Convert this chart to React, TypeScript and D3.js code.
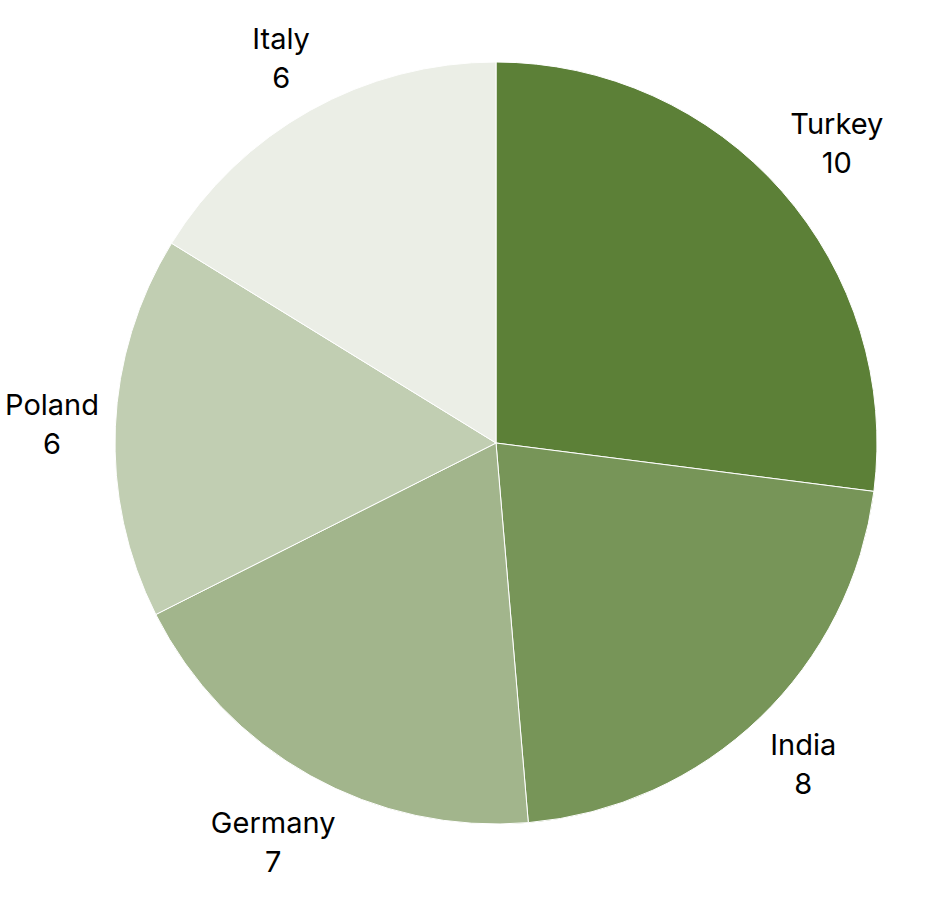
import React from "react";
import * as d3 from "d3";

const categories = ["Turkey", "India", "Germany", "Poland", "Italy"];
const values = [10, 8, 7, 6, 6];
const colors = ["#5c8037", "#779558", "#a2b58c", "#c1ceb2", "#ebeee6"];

const W = 937;
const H = 905;
const cx = 496;
const cy = 443;
const R = 381;
const labelEdge = 396;
const gap = 39;
const fontSize = 29;
const halfH = 35;

function measure(text: string): number {
  try {
    const c = document.createElement("canvas").getContext("2d");
    if (c) {
      c.font = `${fontSize}px Inter`;
      return c.measureText(text).width;
    }
  } catch (e) {}
  return text.length * fontSize * 0.55;
}

export default function App() {
  const data = categories.map((c, i) => ({ name: c, value: values[i], color: colors[i] }));
  const pie = d3.pie<any>().value((d) => d.value).sort(null);
  const arcs = pie(data);
  const arc = d3.arc<any>().innerRadius(0).outerRadius(R);
  return (
    <svg width={W} height={H} style={{ position: "absolute", left: 0, top: 0 }}>
      <g transform={`translate(${cx},${cy})`}>
        {arcs.map((a, i) => (
          <path key={i} d={arc(a) || ""} fill={a.data.color} stroke="#ffffff" strokeWidth={1} />
        ))}
        {arcs.map((a, i) => {
          const mid = (a.startAngle + a.endAngle) / 2;
          const s = Math.sin(mid);
          const c = -Math.cos(mid);
          const w = Math.max(measure(a.data.name), measure(String(a.data.value)));
          const dist = labelEdge + Math.abs(s) * w / 2 + Math.abs(c) * halfH;
          const x = s * dist;
          const y = c * dist;
          return (
            <g key={"l" + i} fontFamily="Inter" fontSize={fontSize} fill="#000" textAnchor="middle">
              <text x={x} y={y - gap / 2 + 10.5}>{a.data.name}</text>
              <text x={x} y={y + gap / 2 + 10.5}>{a.data.value}</text>
            </g>
          );
        })}
      </g>
    </svg>
  );
}
